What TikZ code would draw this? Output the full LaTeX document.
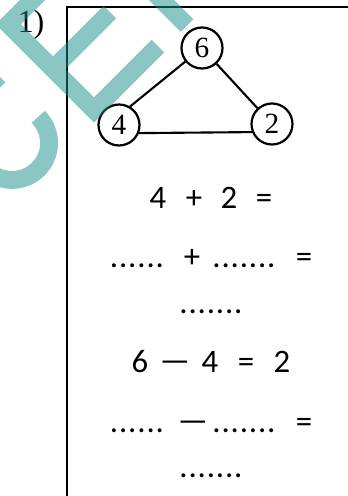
\documentclass[tikz,border=0pt]{standalone}
\usepackage{graphicx}
\usepackage{fontspec}
\setmainfont{Liberation Serif}
\newfontfamily\eqfont{Carlito}
\definecolor{wmteal}{RGB}{22,142,138}
\newcommand{\dt}{\kern0.37pt.\kern0.37pt}
\newcommand{\minussign}{\scalebox{2}[1]{−}}

\tikzset{
  numcirc/.style={circle, draw, line width=1.9pt, minimum size=1.23cm, inner sep=0pt, font=\fontsize{25}{25}\selectfont},
  eqtext/.style={anchor=base, inner sep=0pt, font=\eqfont\fontsize{28}{28}\selectfont},
  wmark/.style={wmteal, opacity=0.5, line width=15.3pt, line join=miter}
}

\begin{document}
\begin{tikzpicture}[x=0.03cm, y=-0.03cm]
  \useasboundingbox (0,0) rectangle (348,496);

  % number of the exercise
  \node[anchor=base, inner sep=0pt, font=\fontsize{27.5}{27.5}\selectfont] (num) at (31,32) {1)};

  % frame (left and top sides)
  \draw[line width=2pt] (67,500) -- (67,7) -- (352,7);

  % triangle of numbers
  \node[numcirc] (n6) at (202,48) {6};
  \node[numcirc] (n4) at (119,125) {4};
  \node[numcirc] (n2) at (272,124) {2};
  \draw[line width=1.8pt] (n6) -- (n4.59);
  \draw[line width=1.8pt] (n6) -- (n2);
  \draw[line width=1.8pt] (n4.-22) -- (n2.-158);

  % 4 + 2 =
  \node[eqtext] (r1x) at (158,208) {4};
  \node[eqtext] (r1plus) at (194,208) {+};
  \node[eqtext] (r1y) at (229,208) {2};
  \node[eqtext] (r1eq) at (264,208) {=};

  % ...... + ....... =
  \node[eqtext] (r2blanka) at (137,267) {\dt\dt\dt\dt\dt\dt};
  \node[eqtext] (r2plus) at (192,267) {+};
  \node[eqtext] (r2blankb) at (244,267) {\dt\dt\dt\dt\dt\dt\dt};
  \node[eqtext] (r2eq) at (304,267) {=};

  % .......
  \node[eqtext] (r3blank) at (211,313) {\dt\dt\dt\dt\dt\dt\dt};

  % 6 - 4 = 2
  \node[eqtext] (r4x) at (140,372) {6};
  \node[eqtext] (r4minus) at (175,372) {\minussign};
  \node[eqtext] (r4y) at (210,372) {4};
  \node[eqtext] (r4eq) at (246,372) {=};
  \node[eqtext] (r4z) at (282,372) {2};

  % ...... - ....... =
  \node[eqtext] (r5blanka) at (137,432) {\dt\dt\dt\dt\dt\dt};
  \node[eqtext] (r5minus) at (193,432) {\minussign};
  \node[eqtext] (r5blankb) at (244,432) {\dt\dt\dt\dt\dt\dt\dt};
  \node[eqtext] (r5eq) at (304,432) {=};

  % .......
  \node[eqtext] (r6blank) at (211,477) {\dt\dt\dt\dt\dt\dt\dt};

  % watermark
  \begin{scope}
    \clip (0,0) rectangle (348,496);
    \draw[wmark] (40,-7.5) -- (8.25,24.25) -- (94,110) -- (158,46)
      (53,69) -- (110,12)
      (150,-11.5) -- (187,25.5)
      (38.2,116.8) arc[start angle=-45, end angle=150, radius=37]
      (-12,87) -- (-1,76);
  \end{scope}
\end{tikzpicture}
\end{document}
